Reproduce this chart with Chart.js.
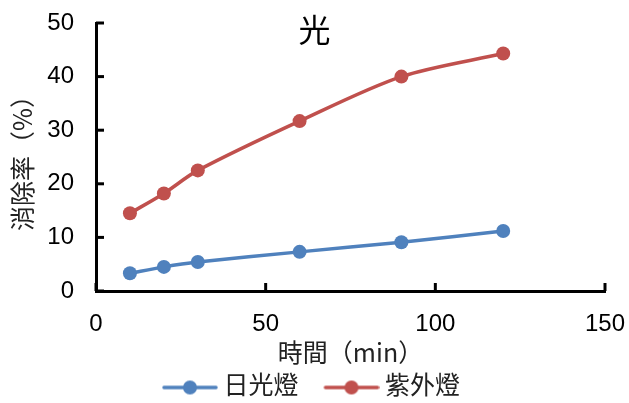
<!DOCTYPE html>
<html>
<head>
<meta charset="utf-8">
<script src="https://cdn.jsdelivr.net/npm/chart.js@4/dist/chart.umd.min.js"></script>
<style>
  html, body { margin: 0; padding: 0; background: #fff; }
  #wrap { width: 629px; height: 403px; }
  canvas { text-spacing-trim: space-all; font-feature-settings: "halt" 0, "palt" 0; }
</style>
</head>
<body>
<div id="wrap"><canvas id="c" width="629" height="403"></canvas></div>
<script>
// Irradiation time (min)
const times = [10, 20, 30, 60, 90, 120];
// Removal rate (%) under each lamp
const daylight = [3.3, 4.5, 5.4, 7.3, 9.1, 11.2];
const ultraviolet = [14.5, 18.2, 22.5, 31.7, 40.0, 44.3];
const seriesNames = ['日光燈', '紫外燈'];
const chartTitle = '光';
const xTitle = '時間（min）';
const yTitle = '消除率（%）';
const xTicks = [0, 50, 100, 150];
const yTicks = [0, 10, 20, 30, 40, 50];

const BLUE = '#4F81BD';
const RED = '#C0504D';
const LATIN = '"Liberation Sans", Arial, sans-serif';
const CJK = '"Liberation Sans", "Noto Sans CJK TC", sans-serif';
const CJK_FIRST = '"Noto Sans CJK TC", "Liberation Sans", sans-serif';

const toPoints = ys => times.map((t, i) => ({ x: t, y: ys[i] }));

// legend swatch: a short line with a marker in its middle (left part left blank as spacing)
function swatch(color) {
  const c = document.createElement('canvas');
  c.width = 80; c.height = 16;
  const g = c.getContext('2d');
  g.strokeStyle = color; g.lineWidth = 3.5; g.lineCap = 'round';
  g.beginPath(); g.moveTo(26, 8); g.lineTo(78, 8); g.stroke();
  g.fillStyle = color;
  g.beginPath(); g.arc(52, 8, 7, 0, Math.PI * 2); g.fill();
  return c;
}

// inward tick marks on both axes, plus the title inside the plot
const decorations = {
  id: 'decorations',
  afterDatasetsDraw(chart) {
    const { ctx, chartArea: a, scales: { x, y } } = chart;
    ctx.save();
    ctx.strokeStyle = '#000';
    ctx.lineWidth = 3;
    xTicks.forEach(v => {
      const px = x.getPixelForValue(v);
      ctx.beginPath(); ctx.moveTo(px, a.bottom); ctx.lineTo(px, a.bottom - 8); ctx.stroke();
    });
    yTicks.forEach(v => {
      const py = y.getPixelForValue(v);
      ctx.beginPath(); ctx.moveTo(a.left, py); ctx.lineTo(a.left + 8, py); ctx.stroke();
    });
    ctx.fillStyle = '#000';
    ctx.font = '32px ' + CJK;
    ctx.textAlign = 'center';
    ctx.textBaseline = 'middle';
    ctx.fillText(chartTitle, chart.width / 2, 33);
    ctx.restore();
  }
};

new Chart(document.getElementById('c'), {
  type: 'line',
  data: {
    datasets: [
      { label: seriesNames[0], data: toPoints(daylight), borderColor: BLUE, backgroundColor: BLUE,
        borderWidth: 3.5, pointRadius: 7, pointHoverRadius: 7, pointBorderWidth: 0, tension: 0.3,
        legendImage: swatch(BLUE) },
      { label: seriesNames[1], data: toPoints(ultraviolet), borderColor: RED, backgroundColor: RED,
        borderWidth: 3.5, pointRadius: 7, pointHoverRadius: 7, pointBorderWidth: 0, tension: 0.3,
        legendImage: swatch(RED) }
    ]
  },
  options: {
    responsive: false,
    animation: false,
    layout: { padding: { top: 23, right: 24, left: 0, bottom: -7 } },
    plugins: {
      title: { display: false },
      tooltip: { enabled: false },
      legend: {
        position: 'bottom',
        labels: {
          usePointStyle: true,
          pointStyleWidth: 66,
          boxHeight: 16,
          padding: 8,
          color: '#222',
          font: { size: 25, family: CJK },
          generateLabels(chart) {
            return chart.data.datasets.map((ds, i) => ({
              text: ds.label, pointStyle: ds.legendImage, fillStyle: ds.borderColor,
              strokeStyle: ds.borderColor, lineWidth: 0, hidden: false, datasetIndex: i, fontColor: '#222'
            }));
          }
        }
      }
    },
    scales: {
      x: {
        type: 'linear', min: 0, max: 150,
        afterFit(s) { s.height = 76; s.paddingLeft = 0; s.paddingRight = 0; },
        afterBuildTicks(s) { s.ticks = xTicks.map(v => ({ value: v })); },
        grid: { display: true, drawOnChartArea: false, drawTicks: false },
        border: { display: true, color: '#000', width: 3 },
        ticks: { padding: 19, color: '#000', font: { size: 24, family: LATIN }, maxRotation: 0 },
        title: { display: true, text: xTitle, color: '#222', font: { size: 25, family: CJK_FIRST }, padding: { top: 0, bottom: 0 } }
      },
      y: {
        type: 'linear', min: 0, max: 50,
        afterFit(s) { s.width = 96; s.paddingTop = 0; s.paddingBottom = 0; },
        afterBuildTicks(s) { s.ticks = yTicks.map(v => ({ value: v })); },
        grid: { display: true, drawOnChartArea: false, drawTicks: false },
        border: { display: true, color: '#000', width: 3 },
        ticks: { padding: 22, color: '#000', font: { size: 24, family: LATIN } },
        title: { display: true, text: yTitle, color: '#222', font: { size: 25, family: CJK_FIRST }, padding: { top: 7, bottom: 0 } }
      }
    }
  },
  plugins: [decorations]
});
</script>
</body>
</html>
